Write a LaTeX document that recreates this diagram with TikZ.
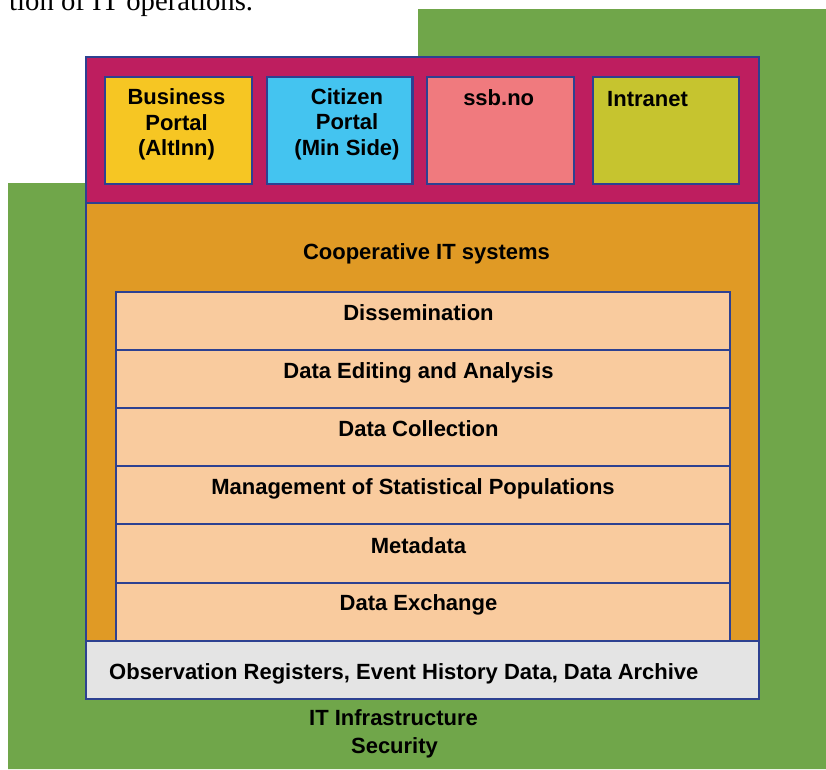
\documentclass[tikz,border=0pt]{standalone}
\usepackage{fontspec}
\setmainfont{Liberation Sans}
\newfontfamily\capserif{Liberation Serif}
\definecolor{bggreen}{HTML}{70A64A}
\definecolor{magent}{HTML}{BE1E5F}
\definecolor{orangebg}{HTML}{E09A25}
\definecolor{peach}{HTML}{F9CB9E}
\definecolor{greybox}{HTML}{E4E4E4}
\definecolor{bordblue}{HTML}{2D4191}
\definecolor{yellowp}{HTML}{F6C623}
\definecolor{cyanp}{HTML}{44C4F0}
\definecolor{salmonp}{HTML}{F07A7E}
\definecolor{olivep}{HTML}{C6C42F}
\tikzset{
  frame/.style={draw=bordblue, line width=2.2pt},
  rowline/.style={draw=bordblue, line width=1.8pt},
  lab/.style={font=\bfseries\fontsize{22}{25.7}\selectfont, text=black, inner sep=0pt, align=center},
}
\begin{document}
\begin{tikzpicture}[x=1pt,y=-1pt]
\useasboundingbox (0,0) rectangle (826,769);
% cut-off caption text above
\node[font=\capserif\fontsize{28.7}{30}\selectfont, anchor=base west, inner sep=0pt] (cap) at (9,10) {tion of IT operations.};
% green background
\fill[bggreen] (418,9) -- (826,9) -- (826,769) -- (8,769) -- (8,183) -- (418,183) -- cycle;
% main areas
\fill[magent] (86,57) rectangle (759,203);
\fill[orangebg] (86,203) rectangle (759,641);
\fill[greybox] (86,641) rectangle (759,699);
% stack
\fill[peach] (116,291.7) rectangle (730,641);
\foreach \y in {350,408,466,524.3,583} {\draw[rowline] (116,\y) -- (730,\y);}
\draw[rowline] (116,641) -- (116,291.7) -- (730,291.7) -- (730,641);
% portals
\draw[frame, fill=yellowp] (105,77) rectangle (252,184);
\draw[frame, fill=cyanp] (266.6,77) rectangle (412.5,184);
\draw[frame, fill=salmonp] (426.8,77) rectangle (573.8,184);
\draw[frame, fill=olivep] (592.7,77) rectangle (739,184);
% frames
\draw[frame] (86,203) -- (759,203);
\draw[frame] (86,641) -- (759,641);
\draw[frame] (86,57) rectangle (759,699);
% labels
\node[lab, anchor=north] (business) at (176.5,88.3) {Business\\Portal\\(AltInn)};
\node[lab, anchor=north] (citizen) at (347,88.1) {Citizen\\Portal\\(Min Side)};
\node[lab, anchor=base] (ssb) at (498.7,105) {ssb.no};
\node[lab, anchor=base west] (intranet) at (607,106) {Intranet};
\node[lab, anchor=base] (coop) at (426.5,259) {Cooperative IT systems};
\node[lab, anchor=base] (dissem) at (418.5,320.5) {Dissemination};
\node[lab, anchor=base] (editing) at (418.5,378.5) {Data Editing and Analysis};
\node[lab, anchor=base] (collect) at (418.5,436.8) {Data Collection};
\node[lab, anchor=base] (manage) at (413,494.8) {Management of Statistical Populations};
\node[lab, anchor=base] (meta) at (418.5,553) {Metadata};
\node[lab, anchor=base] (exch) at (418.5,610.7) {Data Exchange};
\node[lab, anchor=base west] (obs) at (109,679.3) {Observation Registers, Event History Data, Data Archive};
\node[lab, anchor=base] (infra) at (393.5,725.7) {IT Infrastructure};
\node[lab, anchor=base] (secur) at (394.5,753) {Security};
\end{tikzpicture}
\end{document}
